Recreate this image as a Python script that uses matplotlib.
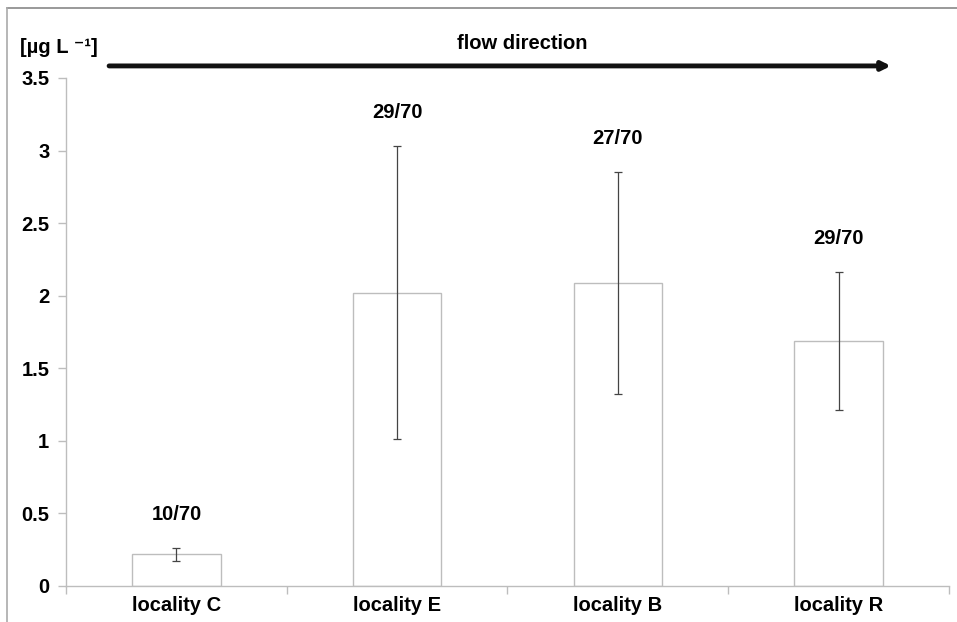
import matplotlib
matplotlib.use("Agg")
import matplotlib.pyplot as plt
import numpy as np
from matplotlib.lines import Line2D

plt.rcParams["font.family"] = ["Liberation Sans", "DejaVu Sans"]
plt.rcParams["font.weight"] = "bold"

# data
localities = ["locality C", "locality E", "locality B", "locality R"]
means = [0.22, 2.02, 2.09, 1.69]
errors = [0.045, 1.01, 0.765, 0.475]
detections = ["10/70", "29/70", "27/70", "29/70"]

fs = 14.5

fig = plt.figure(figsize=(9.57, 6.22), dpi=100)
ax = fig.add_axes([0.069, 0.0579, 0.9226, 0.8167])

x = np.arange(len(localities))
ax.bar(x, means, width=0.4, color="white", edgecolor="#bdbdbd", linewidth=1.0, zorder=2)
ax.errorbar(x, means, yerr=errors, fmt="none", ecolor="#444444", elinewidth=0.9,
            capsize=3, capthick=0.9, zorder=3)

# detection counts above the error bars
for xi, m, e, lab in zip(x, means, errors, detections):
    ax.text(xi, m + e + 0.23, lab, ha="center", va="center", fontsize=fs, fontweight="bold")

ax.set_xlim(-0.5, len(localities) - 0.5)
ax.set_ylim(0, 3.5)
ax.set_yticks([0, 0.5, 1, 1.5, 2, 2.5, 3, 3.5])
ax.set_yticklabels(["0", "0.5", "1", "1.5", "2", "2.5", "3", "3.5"])
ax.set_xticks(x)
ax.set_xticklabels(localities)
ax.set_xticks(np.arange(-0.5, len(localities)), minor=True)
ax.tick_params(axis="x", which="major", length=0, pad=7, labelsize=fs)
ax.tick_params(axis="x", which="minor", length=6, color="#bdbdbd", width=1.0)
ax.tick_params(axis="y", length=6, color="#bdbdbd", width=1.0, labelsize=fs, pad=6)

for s in ["top", "right"]:
    ax.spines[s].set_visible(False)
for s in ["left", "bottom"]:
    ax.spines[s].set_color("#bdbdbd")
    ax.spines[s].set_linewidth(1.0)

# unit label and flow arrow
fig.text(0.021, 0.923, "[µg L ⁻¹]", ha="left", va="center", fontsize=fs, fontweight="bold")
fig.text(0.546, 0.930, "flow direction", ha="center", va="center", fontsize=fs, fontweight="bold")
ax.annotate("", xy=(0.931, 0.894), xytext=(0.114, 0.894), xycoords="figure fraction",
            textcoords="figure fraction",
            arrowprops=dict(arrowstyle="-|>,head_length=0.5,head_width=0.25", lw=3.5, color="#111111",
                            shrinkA=0, shrinkB=0))

# frame lines of the cropped picture
fig.add_artist(Line2D([0.007, 1.0], [0.987, 0.987], transform=fig.transFigure, color="#888888", lw=1.2))
fig.add_artist(Line2D([0.007, 0.007], [0.0, 0.987], transform=fig.transFigure, color="#aaaaaa", lw=1.2))

fig.savefig("out.png", dpi=100)
